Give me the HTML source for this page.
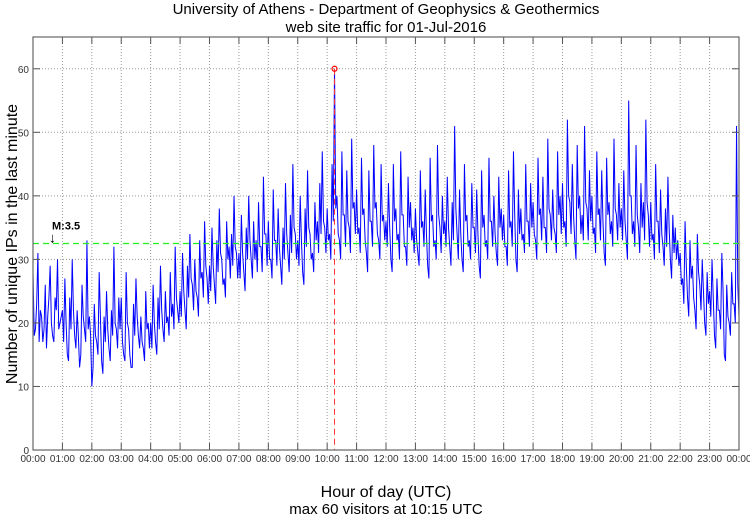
<!DOCTYPE html>
<html><head><meta charset="utf-8"><style>
html,body{margin:0;padding:0;background:#fff;}
svg{display:block;font-family:"Liberation Sans",sans-serif;}
</style></head><body>
<svg id="chart" width="750" height="515" viewBox="0 0 750 515">
<text x="386" y="14" text-anchor="middle" font-size="15">University of Athens - Department of Geophysics &amp; Geothermics</text>
<text x="386" y="32" text-anchor="middle" font-size="15">web site traffic for 01-Jul-2016</text>
<text transform="translate(17,244) rotate(-90)" text-anchor="middle" font-size="16">Number of unique IPs in the last minute</text>
<text x="386" y="497" text-anchor="middle" font-size="16">Hour of day (UTC)</text>
<text x="386" y="514" text-anchor="middle" font-size="15">max 60 visitors at 10:15 UTC</text>
<g id="grid"></g>
<g id="series"></g>
<g id="overlay"></g>
<g id="axes"></g>
</svg>
<script>
const tickHours = [0,1,2,3,4,5,6,7,8,9,10,11,12,13,14,15,16,17,18,19,20,21,22,23,24];
const tickLabels = ["00:00","01:00","02:00","03:00","04:00","05:00","06:00","07:00","08:00","09:00","10:00","11:00","12:00","13:00","14:00","15:00","16:00","17:00","18:00","19:00","20:00","21:00","22:00","23:00","00:00"];
const yTicks = [0,10,20,30,40,50,60];
const meanValue = 32.5;
const maxValue = 60;
const maxHour = 10.25;
const visitors = [
28,19,31,22,17,26,21,29,18,24,30,20,
22,27,15,24,30,18,22,13,26,19,33,21,
10,23,17,28,14,21,25,16,22,32,19,24,
24,15,28,19,13,23,27,18,21,16,25,20,
20,26,17,24,29,19,25,21,28,23,32,22,
25,31,22,29,34,26,30,24,33,28,36,27,
29,35,26,33,38,30,27,36,32,34,40,31,
31,37,28,35,40,30,36,33,39,32,43,34,
36,30,41,33,38,29,35,42,31,37,45,34,
33,40,28,38,44,34,31,39,36,42,47,35,
38,34,45,60,40,33,47,37,44,35,49,39,
41,35,46,38,31,44,36,48,39,33,45,37,
36,42,30,45,38,34,47,37,32,43,39,35,
38,31,44,36,41,29,46,37,33,48,35,40,
36,43,32,39,51,34,41,30,45,37,33,42,
35,41,29,44,37,33,46,36,40,31,43,38,
37,32,44,36,47,30,41,38,34,45,36,42,
39,33,46,38,43,35,49,37,41,34,47,40,
42,36,52,39,45,33,48,40,37,51,38,44,
40,35,47,38,44,31,46,39,36,49,37,42,
38,44,33,55,40,36,48,35,42,39,52,37,
39,34,45,36,41,32,38,43,30,37,35,33,
31,27,36,24,33,29,22,34,26,30,20,28,
25,30,18,27,22,31,15,26,20,28,23,51,
21];
const lows = [
18,23,17,21,19,16,24,20,17,22,19,21,
17,20,14,19,22,16,18,15,21,17,19,18,
13,18,15,21,12,17,19,14,18,20,16,19,
17,14,20,15,13,18,21,16,17,14,19,16,
16,20,15,19,22,17,20,18,21,19,24,20,
21,25,19,24,27,22,25,21,27,24,29,23,
25,29,23,28,31,26,24,30,27,29,32,27,
27,31,25,30,33,27,30,28,32,28,34,29,
30,27,33,29,32,26,30,34,28,31,35,30,
29,33,26,32,35,30,28,33,31,34,36,31,
33,30,36,38,34,30,37,32,36,31,38,34,
34,31,37,33,28,36,32,38,34,30,36,33,
32,35,28,36,33,30,37,32,29,35,33,31,
33,29,35,32,34,27,36,32,30,37,31,34,
32,35,29,33,38,30,34,28,36,32,30,35,
31,34,27,35,32,30,36,32,34,29,35,33,
32,29,35,32,37,28,34,33,31,36,32,35,
34,30,37,33,35,31,38,33,35,31,37,34,
35,32,40,34,37,30,38,34,33,39,33,36,
34,31,37,33,36,29,37,34,32,38,33,35,
33,36,30,40,34,32,37,31,35,33,39,32,
33,30,36,31,34,29,32,35,27,31,30,29,
26,23,29,21,27,24,19,28,22,25,18,23,
21,24,16,22,19,25,14,21,18,23,20,26];

const X0=33,X1=739,Y0=450,YTOP=37,YMAX=65;
const xs=h=>X0+(h/24)*(X1-X0);
const ys=v=>Y0-(v/YMAX)*(Y0-YTOP);
const NS="http://www.w3.org/2000/svg";
function mk(tag,attrs,parent){const e=document.createElementNS(NS,tag);for(const k in attrs)e.setAttribute(k,attrs[k]);parent.appendChild(e);return e;}
const grid=document.getElementById('grid'),axes=document.getElementById('axes'),series=document.getElementById('series'),overlay=document.getElementById('overlay');

tickHours.forEach((h,i)=>{
  const x=xs(h);
  if(i>0&&i<24){const g=mk('line',{x1:x,x2:x,y1:YTOP,y2:Y0,stroke:'#999','stroke-width':1,'stroke-dasharray':'1,2'},grid);
  
  }
  const t1=mk('line',{x1:x,x2:x,y1:Y0,y2:Y0-7,stroke:'#555','stroke-width':1},axes);
  
  
  const t2=mk('line',{x1:x,x2:x,y1:YTOP,y2:YTOP+7,stroke:'#555','stroke-width':1},axes);
  
  
  const lb=mk('text',{x:x,y:462,'text-anchor':'middle','font-size':10,fill:'#333'},axes);
  lb.textContent=tickLabels[i];
  
  
});
yTicks.forEach(v=>{
  const y=ys(v);
  if(v>0){const g=mk('line',{x1:X0,x2:X1,y1:y,y2:y,stroke:'#999','stroke-width':1,'stroke-dasharray':'1,2'},grid);
  
  }
  const t=mk('line',{x1:X0,x2:X0+7,y1:y,y2:y,stroke:'#555'},axes);
  
  
  const t2=mk('line',{x1:X1,x2:X1-7,y1:y,y2:y,stroke:'#555'},axes);
  
  
  const lb=mk('text',{x:X0-4,y:y+4,'text-anchor':'end','font-size':10,fill:'#333'},axes);
  lb.textContent=String(v);
  
  
});
const frame=mk('rect',{x:X0,y:YTOP,width:X1-X0,height:Y0-YTOP,fill:'none',stroke:'#666','stroke-width':1.2},axes);



const steps=visitors.length-1;
const ptsArr=[];
visitors.forEach((v,i)=>{
  ptsArr.push(xs(i*24/steps).toFixed(2)+','+ys(v).toFixed(2));
  if(i<lows.length) ptsArr.push(xs((i+0.5)*24/steps).toFixed(2)+','+ys(lows[i]).toFixed(2));
});
const line=mk('polyline',{points:ptsArr.join(' '),fill:'none',stroke:'#0000ff','stroke-width':1},series);



const ml=mk('line',{x1:X0,x2:X1,y1:ys(meanValue),y2:ys(meanValue),stroke:'#22ee22','stroke-width':1.3,'stroke-dasharray':'6,4'},overlay);


const ma=mk('text',{x:52,y:ys(meanValue)-14,'font-size':11,'font-weight':'bold'},overlay);
ma.textContent='M:3.5';


const arr=mk('text',{x:49,y:ys(meanValue)-1,'font-size':14},overlay);
arr.textContent='↓';


const vl=mk('line',{x1:xs(maxHour),x2:xs(maxHour),y1:ys(maxValue),y2:Y0,stroke:'#ff3333','stroke-width':1,'stroke-dasharray':'6,4'},overlay);


const mc=mk('circle',{cx:xs(maxHour),cy:ys(maxValue),r:2.5,fill:'none',stroke:'#ff0000','stroke-width':1.2},overlay);


</script>
</body></html>
